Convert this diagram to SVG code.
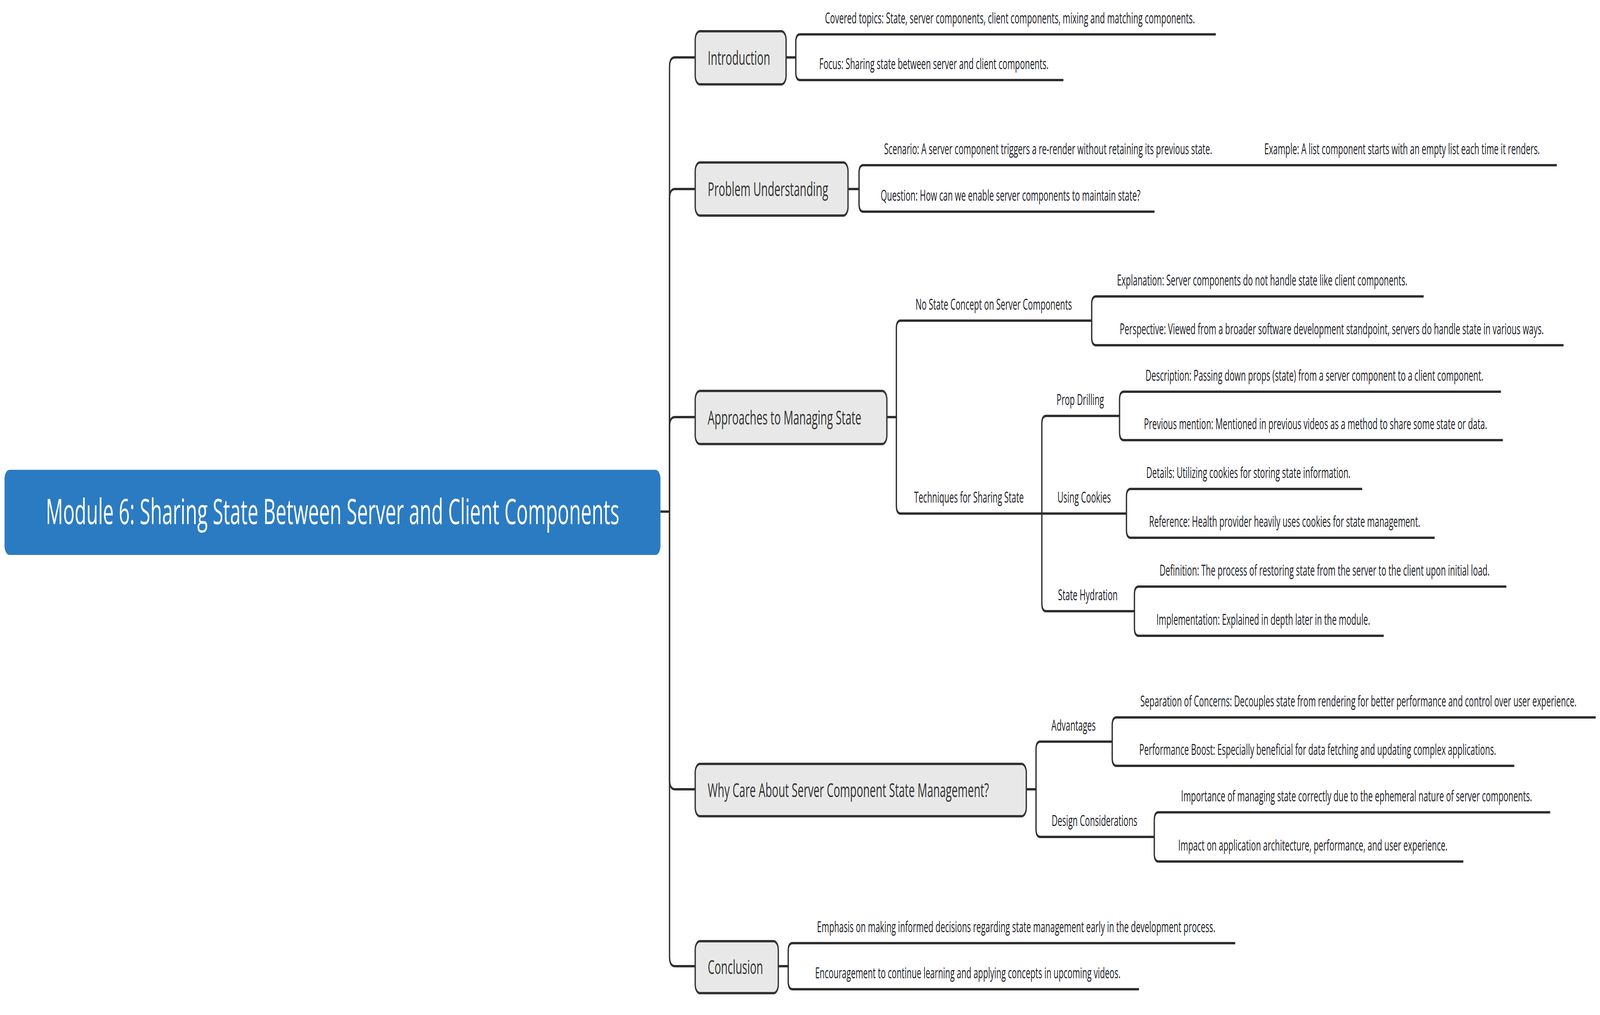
<svg xmlns="http://www.w3.org/2000/svg" width="7413" height="2599" viewBox="0 0 7413 2599" preserveAspectRatio="none" style="width:100vw;height:100vh;display:block">
<style>
.bg{fill:#ffffff}
.conn path{fill:none;stroke:#2e2e2e;stroke-width:6;stroke-linejoin:round}
.topic rect{fill:#e8e8e8;stroke:#333333;stroke-width:6}
.root rect{fill:#2b7bc2}
text{font-family:"Open Sans","Noto Sans","DejaVu Sans",sans-serif;text-anchor:middle}
.rt{font-size:89px;fill:#ffffff}
.mt{font-size:50px;fill:#333333;text-anchor:start}
.st{font-size:38px;fill:#1c1c26}
</style>
<rect class="bg" x="0" y="0" width="7413" height="2599"/>
<g id="connectors" class="conn">
  <path d="M3060 1310H3102"/>
  <path d="M3102 1310V172Q3102 147 3127 147H3221"/>
  <path d="M3102 1310V509Q3102 484 3127 484H3221"/>
  <path d="M3102 1310V1093Q3102 1068 3127 1068H3221"/>
  <path d="M3102 1310V1996Q3102 2021 3127 2021H3221"/>
  <path d="M3102 1310V2449Q3102 2474 3127 2474H3221"/>
  <path d="M3642 147H3687V108Q3687 88 3707 88H5633"/>
  <path d="M3642 147H3687V185Q3687 205 3707 205H4927"/>
  <path d="M3929 484H3980V443Q3980 423 4000 423H5777"/>
  <path d="M5777 423H7213"/>
  <path d="M3929 484H3980V522Q3980 542 4000 542H5349"/>
  <path d="M4109 1068H4153V841Q4153 821 4173 821H5058"/>
  <path d="M5058 821V779Q5058 759 5078 759H6596"/>
  <path d="M5058 821V864Q5058 884 5078 884H7244"/>
  <path d="M4109 1068H4153V1295Q4153 1315 4173 1315H4827"/>
  <path d="M4827 1315V1085Q4827 1065 4847 1065H5187"/>
  <path d="M5187 1065V1023Q5187 1003 5207 1003H6954"/>
  <path d="M5187 1065V1107Q5187 1127 5207 1127H6963"/>
  <path d="M4827 1315H5219"/>
  <path d="M5219 1315V1272Q5219 1252 5239 1252H6311"/>
  <path d="M5219 1315V1357Q5219 1377 5239 1377H6647"/>
  <path d="M4827 1315V1545Q4827 1565 4847 1565H5256"/>
  <path d="M5256 1565V1522Q5256 1502 5276 1502H6979"/>
  <path d="M5256 1565V1608Q5256 1628 5276 1628H6411"/>
  <path d="M4755 2021H4800V1919Q4800 1899 4820 1899H5153"/>
  <path d="M5153 1899V1857Q5153 1837 5173 1837H7393"/>
  <path d="M5153 1899V1941Q5153 1961 5173 1961H7016"/>
  <path d="M4755 2021H4800V2123Q4800 2143 4820 2143H5348"/>
  <path d="M5348 2143V2100Q5348 2080 5368 2080H7182"/>
  <path d="M5348 2143V2186Q5348 2206 5368 2206H6780"/>
  <path d="M3606 2474H3652V2435Q3652 2415 3672 2415H5723"/>
  <path d="M3606 2474H3652V2513Q3652 2533 3672 2533H5277"/>
</g>
<g id="root" class="root">
  <rect x="21" y="1203" width="3039" height="218" rx="23"/>
  <text class="rt" x="1541" y="1342">Module 6: Sharing State Between Server and Client Components</text>
</g>
<g id="introduction" class="topic">
  <rect x="3221" y="80" width="421" height="136" rx="22"/>
  <text class="mt" x="3279" y="166">Introduction</text>
</g>
<g id="covered-topics"><text class="st" x="4679" y="60">Covered topics: State, server components, client components, mixing and matching components.</text></g>
<g id="focus"><text class="st" x="4327" y="177">Focus: Sharing state between server and client components.</text></g>
<g id="problem-understanding" class="topic">
  <rect x="3221" y="416" width="708" height="136" rx="22"/>
  <text class="mt" x="3279" y="502">Problem Understanding</text>
</g>
<g id="scenario"><text class="st" x="4856" y="395">Scenario: A server component triggers a re-render without retaining its previous state.</text></g>
<g id="example"><text class="st" x="6496" y="395">Example: A list component starts with an empty list each time it renders.</text></g>
<g id="question"><text class="st" x="4682" y="514">Question: How can we enable server components to maintain state?</text></g>
<g id="approaches" class="topic">
  <rect x="3221" y="1001" width="888" height="136" rx="22"/>
  <text class="mt" x="3279" y="1087">Approaches to Managing State</text>
</g>
<g id="no-state-concept"><text class="st" x="4604" y="793">No State Concept on Server Components</text></g>
<g id="explanation"><text class="st" x="5848" y="731">Explanation: Server components do not handle state like client components.</text></g>
<g id="perspective"><text class="st" x="6170" y="856">Perspective: Viewed from a broader software development standpoint, servers do handle state in various ways.</text></g>
<g id="techniques"><text class="st" x="4489" y="1287">Techniques for Sharing State</text></g>
<g id="prop-drilling"><text class="st" x="5005" y="1037">Prop Drilling</text></g>
<g id="description"><text class="st" x="6090" y="975">Description: Passing down props (state) from a server component to a client component.</text></g>
<g id="previous-mention"><text class="st" x="6095" y="1099">Previous mention: Mentioned in previous videos as a method to share some state or data.</text></g>
<g id="using-cookies"><text class="st" x="5023" y="1287">Using Cookies</text></g>
<g id="details"><text class="st" x="5784" y="1224">Details: Utilizing cookies for storing state information.</text></g>
<g id="reference"><text class="st" x="5952" y="1349">Reference: Health provider heavily uses cookies for state management.</text></g>
<g id="state-hydration"><text class="st" x="5040" y="1537">State Hydration</text></g>
<g id="definition"><text class="st" x="6137" y="1474">Definition: The process of restoring state from the server to the client upon initial load.</text></g>
<g id="implementation"><text class="st" x="5853" y="1600">Implementation: Explained in depth later in the module.</text></g>
<g id="why-care" class="topic">
  <rect x="3221" y="1956" width="1534" height="134" rx="22"/>
  <text class="mt" x="3279" y="2041">Why Care About Server Component State Management?</text>
</g>
<g id="advantages"><text class="st" x="4974" y="1871">Advantages</text></g>
<g id="separation"><text class="st" x="6294" y="1809">Separation of Concerns: Decouples state from rendering for better performance and control over user experience.</text></g>
<g id="performance-boost"><text class="st" x="6105" y="1933">Performance Boost: Especially beneficial for data fetching and updating complex applications.</text></g>
<g id="design-considerations"><text class="st" x="5071" y="2115">Design Considerations</text></g>
<g id="importance"><text class="st" x="6285" y="2052">Importance of managing state correctly due to the ephemeral nature of server components.</text></g>
<g id="impact"><text class="st" x="6083" y="2178">Impact on application architecture, performance, and user experience.</text></g>
<g id="conclusion" class="topic">
  <rect x="3221" y="2410" width="385" height="133" rx="22"/>
  <text class="mt" x="3279" y="2494">Conclusion</text>
</g>
<g id="emphasis"><text class="st" x="4708" y="2387">Emphasis on making informed decisions regarding state management early in the development process.</text></g>
<g id="encouragement"><text class="st" x="4484" y="2505">Encouragement to continue learning and applying concepts in upcoming videos.</text></g>
</svg>
